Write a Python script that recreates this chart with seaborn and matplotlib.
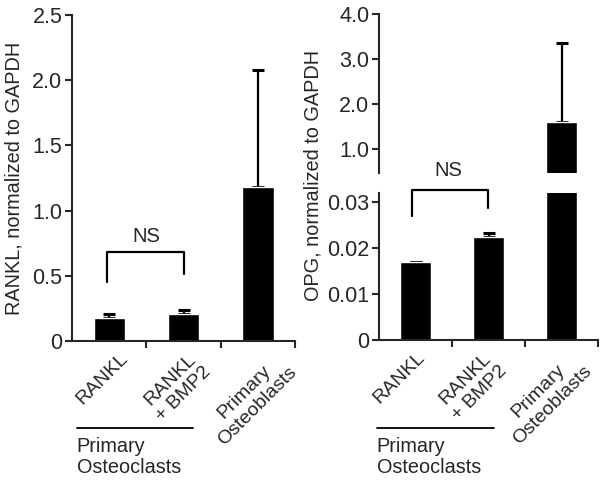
import numpy as np
import pandas as pd
import seaborn as sns
import matplotlib.pyplot as plt
from matplotlib.transforms import ScaledTranslation

# data
groups = ['RANKL', 'RANKL\n+ BMP2', 'Primary\nOsteoblasts']
rankl_mean = [0.18, 0.21, 1.18]
rankl_err = [0.025, 0.03, 0.90]
opg_mean = [0.0169, 0.0225, 1.61]
opg_err = [0.0001, 0.0008, 1.75]

sns.set_style('ticks')
plt.rcParams['font.family'] = ['Liberation Sans', 'DejaVu Sans']
plt.rcParams['axes.linewidth'] = 1.5

df_rankl = pd.DataFrame({'group': groups, 'value': rankl_mean})
df_opg = pd.DataFrame({'group': groups, 'value': opg_mean})

fig = plt.figure(figsize=(6, 4.84), dpi=100)
ax1 = fig.add_axes([0.12, 0.2955, 0.372, 0.6735])
ax2t = fig.add_axes([0.6317, 0.6426, 0.365, 0.3284])
ax2b = fig.add_axes([0.6317, 0.2975, 0.365, 0.3037])

BW = 0.42
TICK_FS = 15.5
LAB_FS = 14.3
X_FS = 14


def bars(ax, df, err):
    sns.barplot(data=df, x='group', y='value', color='black', width=BW,
                errorbar=None, ax=ax, saturation=1, zorder=2)
    # upper error bars only, drawn behind the bars
    ax.errorbar(range(len(df)), df['value'], yerr=[np.zeros(len(err)), err],
                fmt='none', ecolor='black', elinewidth=1.6, capsize=4.3,
                capthick=2.2, zorder=1)
    ax.set_xlim(-0.5, 2.5)
    ax.set_xlabel('')
    ax.set_ylabel('')
    ax.tick_params(axis='y', labelsize=TICK_FS, length=5, width=1.5, pad=2)


def xaxis(ax, dx):
    ax.set_xticks([0, 1, 2])
    ax.tick_params(axis='x', which='major', length=0, pad=6, labelsize=X_FS)
    ax.set_xticklabels(groups, rotation=45, ha='center', va='top',
                       multialignment='center', fontsize=X_FS)
    shift = ScaledTranslation(dx / 72, 0, fig.dpi_scale_trans)
    for lab in ax.get_xticklabels():
        lab.set_transform(lab.get_transform() + shift)
    # tick marks sit between the bars
    ax.set_xticks([0.5, 1.5, 2.5], minor=True)
    ax.tick_params(axis='x', which='minor', length=5, width=1.5,
                   direction='out')


def bracket(ax, x0, x1, ytop, yl, yr):
    ax.plot([x0, x0, x1, x1], [yl, ytop, ytop, yr], color='black', lw=1.6,
            clip_on=False)


# left panel: RANKL
bars(ax1, df_rankl, rankl_err)
ax1.set_ylim(0, 2.5)
ax1.set_yticks([0, 0.5, 1.0, 1.5, 2.0, 2.5])
ax1.set_yticklabels(['0', '0.5', '1.0', '1.5', '2.0', '2.5'])
ax1.set_ylabel('RANKL, normalized to GAPDH', fontsize=LAB_FS, labelpad=6)
xaxis(ax1, -5)
bracket(ax1, -0.03, 1.0, 0.68, 0.45, 0.51)
ax1.text(0.5, 0.80, 'NS', ha='center', va='center', fontsize=14.5)
sns.despine(ax=ax1)

# right panel: OPG, broken axis
bars(ax2t, df_opg, opg_err)
ax2t.set_ylim(0.47, 4.0)
ax2t.set_yticks([1, 2, 3, 4])
ax2t.set_yticklabels(['1.0', '2.0', '3.0', '4.0'])
ax2t.set_xticks([])
sns.despine(ax=ax2t, bottom=True)

bars(ax2b, df_opg, opg_err)
ax2b.set_ylim(0, 0.032)
ax2b.set_yticks([0, 0.01, 0.02, 0.03])
ax2b.set_yticklabels(['0', '0.01', '0.02', '0.03'])
xaxis(ax2b, -11.5)
sns.despine(ax=ax2b)
bracket(ax2b, -0.05, 0.99, 0.0327, 0.0269, 0.0287)
ax2b.text(0.45, 0.037, 'NS', ha='center', va='center', fontsize=14.5,
          clip_on=False)

fig.text(0.522, 0.638, 'OPG, normalized to GAPDH', rotation=90,
         ha='center', va='center', fontsize=LAB_FS)

# group annotation under the osteoclast bars
for x0, x1 in [(0.128, 0.322), (0.628, 0.823)]:
    fig.add_artist(plt.Line2D([x0, x1], [0.116, 0.116], color='black',
                              lw=1.3))
    fig.text(x0, 0.097, 'Primary\nOsteoclasts', ha='left', va='top',
             fontsize=14.3, linespacing=1.15)

fig.savefig('out.png', dpi=100)
